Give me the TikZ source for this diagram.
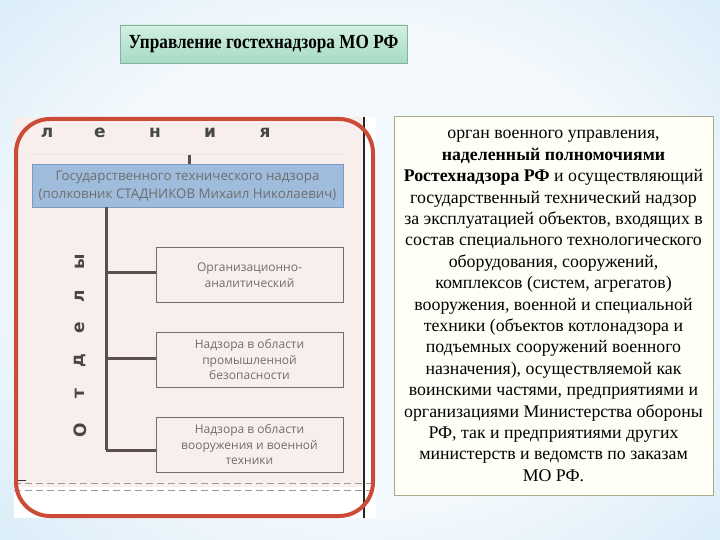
\documentclass[tikz,border=0pt]{standalone}
\usepackage{graphicx}
\usepackage{fontspec}
\setmainfont{Liberation Serif}
\newfontfamily\sansf{Open Sans}
\newfontfamily\heavyf{DejaVu Sans}
\definecolor{bgedge}{HTML}{A9D4F3}
\definecolor{bgmid}{HTML}{D2E9F8}
\definecolor{bgcore}{HTML}{F2F8FC}
\definecolor{titletop}{HTML}{D3F0E3}
\definecolor{titlebot}{HTML}{A6DAC3}
\definecolor{titleline}{HTML}{86B39E}
\definecolor{picbg}{HTML}{F8EFED}
\definecolor{redframe}{HTML}{CC4B37}
\definecolor{bluebox}{HTML}{9FBCDC}
\definecolor{blueline}{HTML}{7A9CC4}
\definecolor{greytxt}{HTML}{6E6E6E}
\definecolor{trunk}{HTML}{5A4E4E}
\definecolor{textbox}{HTML}{A3AE86}
\pgfdeclareradialshading{bgshade}{\pgfpoint{0bp}{0bp}}{%
  color(0bp)=(bgcore); color(20bp)=(bgcore); color(36bp)=(bgmid); color(48bp)=(bgedge); color(75bp)=(bgedge)}
\tikzset{
  deptbox/.style={draw=greytxt, line width=0.8pt, fill=picbg, minimum width=187pt, minimum height=55pt,
    inner sep=0pt, align=center, text=greytxt, font=\sansf\fontsize{12}{15.5}\selectfont},
  bigletter/.style={text=black!72, font=\heavyf\bfseries\fontsize{17}{17}\selectfont, inner sep=0pt},
  branch/.style={draw=trunk, line width=3pt}
}
\begin{document}
\begin{tikzpicture}[x=1pt,y=-1pt]
\useasboundingbox (0,0) rectangle (720,540);
\fill[bgedge] (0,0) rectangle (720,540);
\shade[shading=bgshade] (-30,-40) rectangle (750,580);
% title
\node[draw=titleline, line width=0.8pt, top color=titletop, bottom color=titlebot,
  minimum width=287pt, minimum height=38pt, inner sep=0pt,
  font=\bfseries\fontsize{20}{20}\selectfont] (title) at (263.5,44) {\scalebox{0.86}[1]{Управление гостехнадзора МО РФ}};
% left picture
\fill[white] (14,117) rectangle (376,518);
\fill[picbg] (14,117) rectangle (364,487);
\draw[black!85, line width=2pt] (364,117) -- (364,518);
\draw[greytxt!70, line width=1pt, dash pattern=on 7pt off 4pt] (14,483) -- (376,483);
\draw[greytxt!70, line width=1pt, dash pattern=on 7pt off 4pt] (14,490) -- (376,490);
\draw[black!80, line width=1pt] (14,480) -- (26,480);
\draw[black!10, line width=1pt] (30,155) -- (343,155);
\foreach \ch/\xx [count=\i] in {л/47,е/100,н/155,и/210,я/265}
  \node[bigletter] (top\i) at (\xx,133) {\ch};
\foreach \ch/\yy [count=\i] in {О/430,т/394,д/361,е/328,л/296,ы/262}
  \node[bigletter, rotate=90] (side\i) at (80,\yy) {\ch};
\coordinate (tick) at (189,155);
\node[draw=blueline, line width=0.8pt, fill=bluebox, minimum width=311pt, minimum height=43pt,
  inner sep=0pt, align=center, text=greytxt, font=\sansf\fontsize{13.3}{18}\selectfont]
  (head) at (187.5,185.5) {Государственного технического надзора\\(полковник СТАДНИКОВ Михаил Николаевич)};
\draw[trunk, line width=3pt] (tick) -- (head.north -| tick);
\node[deptbox] (d1) at (249.5,275) {Организационно-\\аналитический};
\node[deptbox] (d2) at (249.5,359.5) {Надзора в области\\промышленной\\безопасности};
\node[deptbox] (d3) at (249.5,444.5) {Надзора в области\\вооружения и военной\\техники};
\coordinate (trunkbot) at (106,450);
\draw[branch] (head.south -| trunkbot) -- (trunkbot);
\draw[branch] (trunkbot |- 0,272) -- (d1.west |- 0,272);
\draw[branch] (trunkbot |- 0,358) -- (d2.west |- 0,358);
\draw[branch] (trunkbot) -- (d3.west |- trunkbot);
\draw[redframe, line width=4pt, rounded corners=34pt] (16,119) rectangle (373,516);
% right text
\node[draw=textbox, line width=1pt, fill=white!97!yellow, minimum width=319pt, minimum height=378pt,
  inner sep=0pt] (textbox) at (553.5,306) {};
\node[align=center, inner sep=0pt, font=\fontsize{17.8}{21.4}\selectfont] (desc) at (textbox.center)
{орган военного управления,\\
\textbf{наделенный полномочиями}\\
\textbf{Ростехнадзора РФ} и осуществляющий\\
государственный технический надзор\\
за эксплуатацией объектов, входящих в\\
состав специального технологического\\
оборудования, сооружений,\\
комплексов (систем, агрегатов)\\
вооружения, военной и специальной\\
техники (объектов котлонадзора и\\
подъемных сооружений военного\\
назначения), осуществляемой как\\
воинскими частями, предприятиями и\\
организациями Министерства обороны\\
РФ, так и предприятиями других\\
министерств и ведомств по заказам\\
МО РФ.};
\end{tikzpicture}
\end{document}
